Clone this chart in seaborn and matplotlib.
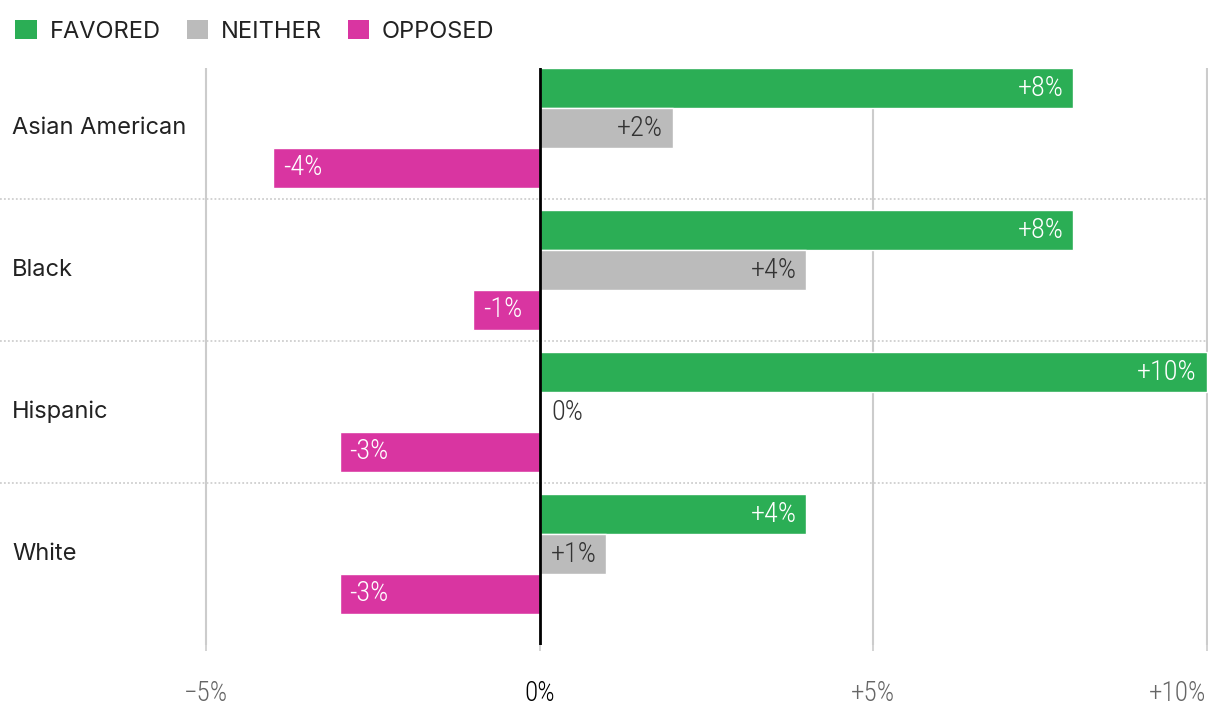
import pandas as pd
import matplotlib.pyplot as plt
import matplotlib.transforms as mtransforms
from matplotlib.patches import Patch
import seaborn as sns

groups = ["Asian American", "Black", "Hispanic", "White"]
responses = ["FAVORED", "NEITHER", "OPPOSED"]
favored = [8, 8, 10, 4]
neither = [2, 4, 0, 1]
opposed = [-4, -1, -3, -3]
x_ticks = [-5, 0, 5, 10]
x_tick_labels = ["\u22125%", "0%", "+5%", "+10%"]

colors = {"FAVORED": "#2BAE55", "NEITHER": "#BBBBBB", "OPPOSED": "#D935A1"}
label_colors = {"FAVORED": "white", "NEITHER": "#333333", "OPPOSED": "white"}

rows = []
for name, vals in zip(responses, [favored, neither, opposed]):
    for g, v in zip(groups, vals):
        rows.append({"group": g, "response": name, "value": v})
df = pd.DataFrame(rows)

sns.set_style("white")
plt.rcParams["font.family"] = ["Inter", "DejaVu Sans"]
num_font = dict(family=["Roboto Condensed", "Liberation Sans Narrow", "DejaVu Sans"],
                stretch="condensed", weight="light")

W, H = 1220, 724
fig = plt.figure(figsize=(W / 100, H / 100), dpi=100)
ax = fig.add_axes([0, 79 / H, 1208 / W, (645 - 68) / H])

sns.barplot(data=df, x="value", y="group", hue="response", order=groups,
            hue_order=responses, palette=colors, width=0.845, orient="h",
            saturation=1, legend=False, ax=ax, zorder=2)

ax.set_xlim(-540 / 66.75, 10.02)
ax.set_ylim(3 + 91 / 142, -60 / 142)

for sp in ax.spines.values():
    sp.set_visible(False)

for t in [-5, 5, 10]:
    ax.axvline(t, color="#cccccc", lw=1.5, zorder=1)
ax.axvline(0, color="black", lw=2, zorder=4)
for i in range(len(groups) - 1):
    ax.axhline(i + 0.5, color="#cfcfcf", lw=1.3, ls=(0, (1, 1.2)), zorder=1)

ax.set_xticks(x_ticks)
ax.set_xticklabels(x_tick_labels, fontsize=19.5, color="#666666", **num_font)
ticklabels = ax.get_xticklabels()
ticklabels[1].set_color("black")
ticklabels[-1].set_horizontalalignment("right")
ax.tick_params(axis="x", length=4, width=1.2, color="#cccccc", pad=21,
               direction="out", bottom=True)
ax.set_yticks([])
ax.set_xlabel("")
ax.set_ylabel("")

trans = mtransforms.blended_transform_factory(ax.transAxes, ax.transData)
for i, g in enumerate(groups):
    ax.text(12 / 1208, i, g, transform=trans, ha="left", va="center",
            fontsize=17, color="#222222")

for name, cont in zip(responses, ax.containers):
    for patch in cont:
        w = patch.get_width()
        yc = patch.get_y() + patch.get_height() / 2
        if w > 0:
            txt, off, ha, col = f"+{w:g}%", -10, "right", label_colors[name]
        elif w < 0:
            txt, off, ha, col = f"-{abs(w):g}%", 10, "left", label_colors[name]
        else:
            txt, off, ha, col = "0%", 12, "left", "#333333"
        ax.annotate(txt, (w, yc), xytext=(off, 0), textcoords="offset pixels",
                    ha=ha, va="center", fontsize=20.5, color=col, zorder=5,
                    **num_font)

handles = [Patch(facecolor=colors[r], edgecolor="none", label=r) for r in responses]
fig.legend(handles=handles, loc="upper left", bbox_to_anchor=(0.0, 0.994),
           ncol=3, frameon=False, fontsize=17, handlelength=0.9,
           handleheight=0.9, handletextpad=0.55, columnspacing=1.1,
           labelcolor="#222222", borderaxespad=0.1, borderpad=0.55)

fig.savefig("out.png", dpi=100)
